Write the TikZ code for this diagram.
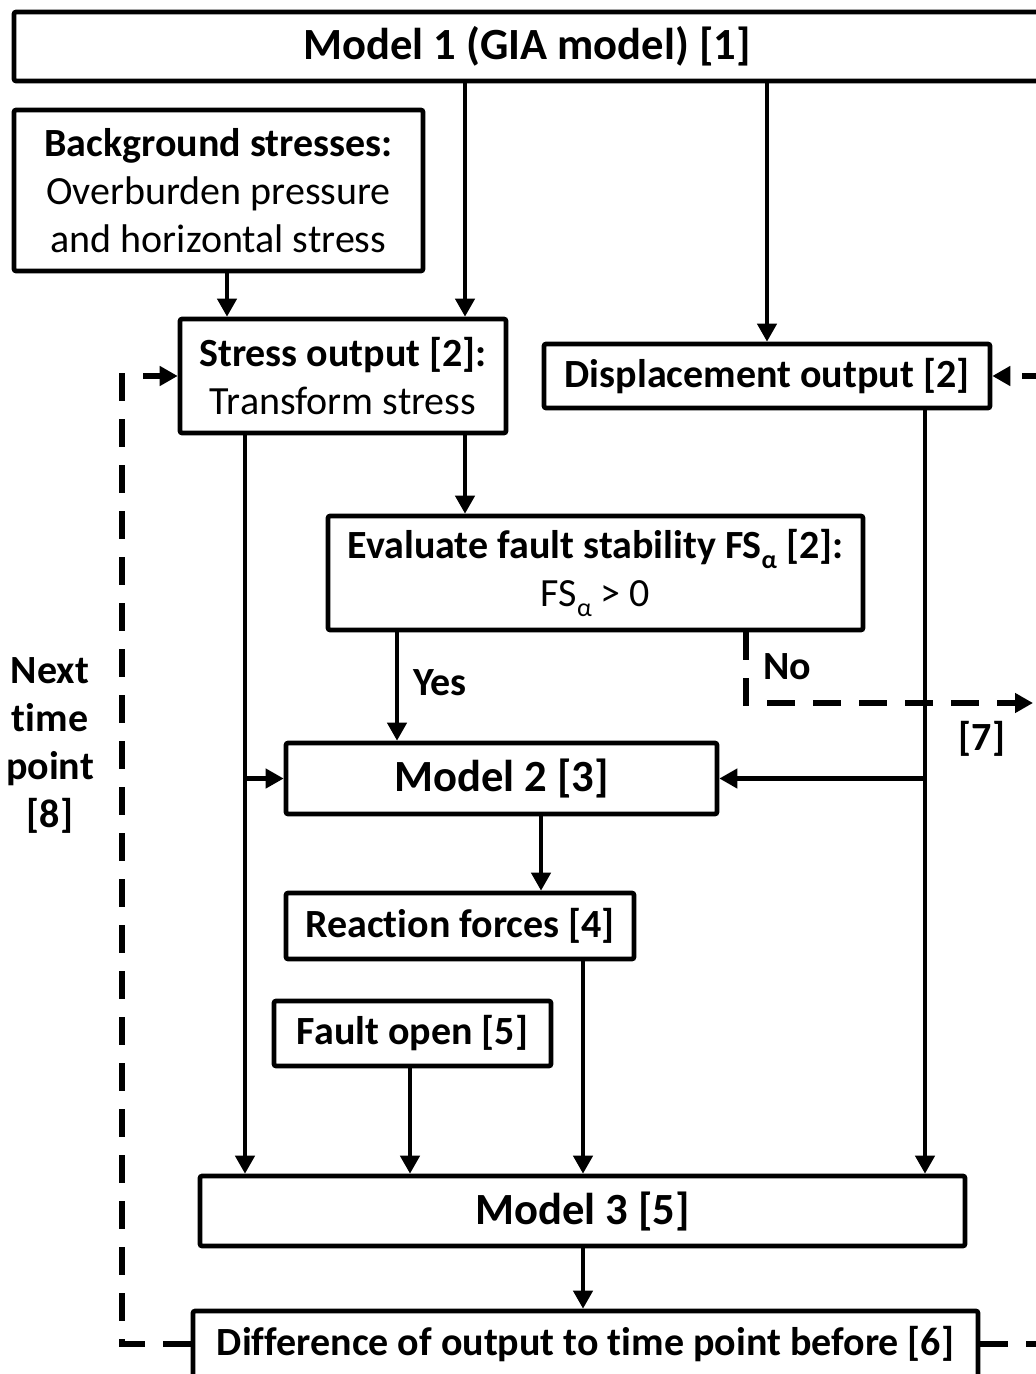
\documentclass[tikz,border=0pt]{standalone}
\usepackage{fontspec}
\setmainfont[Ligatures={NoCommon,NoContextual}]{Carlito}
\usetikzlibrary{arrows.meta,positioning}
\newcommand{\subal}{\raisebox{-0.55ex}{\fontsize{13}{13}\selectfont α}}
\tikzset{box/.style={rectangle,draw,line width=2.3pt,rounded corners=1pt,align=center,inner sep=0pt,font=\fontsize{20}{24}\selectfont},
         size/.style 2 args={minimum width=#1*0.5pt,minimum height=#2*0.5pt},
         big/.style={font=\fontsize{22.3}{26}\selectfont\bfseries},
         edge label/.style={rectangle,draw=none,fill=none,align=center,font=\fontsize{20}{24}\selectfont\bfseries},
         loop/.style={line width=2.8pt,dash pattern=on 14pt off 9pt}
}

\begin{document}
\begin{tikzpicture}[x=0.5pt,y=-0.5pt,line width=2.1pt,>={Triangle[length=9pt,width=9.5pt]}]
\useasboundingbox (0,0) rectangle (1035,1374);

% boxes
\node[box,big,size={1026}{69}] (m1) at (527,46.5) {Model 1 (GIA model) [1]};
\node[box,size={409}{161}] (bg) at (218.5,190.5) {\textbf{Background stresses:}\\Overburden pressure\\and horizontal stress};
\node[box,size={326}{114}] (so) at (343,376) {\textbf{Stress output [2]:}\\Transform stress};
\node[box,size={446}{64},font=\fontsize{20}{24}\selectfont\bfseries] (do) at (767,376) {Displacement output [2]};
\node[box,size={535}{114}] (ev) at (595.5,573) {\textbf{Evaluate fault stability FS\subal{} [2]:}\\FS\subal{} > 0};
\node[box,big,size={431}{71}] (m2) at (501.5,778.5) {Model 2 [3]};
\node[box,size={348}{66},font=\fontsize{20}{24}\selectfont\bfseries] (rf) at (460,926) {Reaction forces [4]};
\node[box,size={277}{65},font=\fontsize{20}{24}\selectfont\bfseries] (fo) at (412.5,1033.5) {Fault open [5]};
\node[box,big,size={765}{70}] (m3) at (582.5,1211) {Model 3 [5]};
\node[box,size={785}{66},font=\fontsize{20}{24}\selectfont\bfseries] (df) at (585.5,1344) {Difference of output to time point before [6]};

% labels
\node[edge label] (yes) at (440,683) {Yes};
\node[edge label] (no) at (787,667) {No};
\node[edge label] (seven) at (982,739) {[7]};
\node[edge label] (next) at (50,745) {Next\\time\\point\\{[8]}};

% x positions of the connectors
\coordinate (a) at (465,0);
\coordinate (b) at (767,0);
\coordinate (c) at (227,0);
\coordinate (d) at (245,0);
\coordinate (e) at (925,0);
\coordinate (f) at (397,0);
\coordinate (g) at (746,0);
\coordinate (h) at (541,0);
\coordinate (i) at (583,0);
\coordinate (j) at (410,0);
\coordinate (lft) at (122,0);
\coordinate (rgt) at (1060,0);
\coordinate (tip) at (1033,703);

% connectors
\draw[->] (m1.south -| a) -- (so.north -| a);
\draw[->] (m1.south -| b) -- (do.north -| b);
\draw[->] (bg.south -| c) -- (so.north -| c);
\draw[->] (so.south -| a) -- (ev.north -| a);
\draw[->] (so.south -| d) -- (m3.north -| d);
\draw[->] (m2.west -| d) -- (m2.west);
\draw[->] (do.south -| e) -- (m3.north -| e);
\draw[->] (m2.east -| e) -- (m2.east);
\draw[->] (ev.south -| f) -- (m2.north -| f);
\draw[->] (m2.south -| h) -- (rf.north -| h);
\draw[->] (rf.south -| i) -- (m3.north -| i);
\draw[->] (fo.south -| j) -- (m3.north -| j);
\draw[->] (m3.south -| i) -- (df.north -| i);

% dashed loops
\draw[->,loop] (ev.south -| g) |- (tip);
\draw[->,loop] (df.west) -- (df.west -| lft) -- (so.west -| lft) -- (so.west);
\draw[->,loop] (df.east) -- (df.east -| rgt) -- (do.east -| rgt) -- (do.east);
\end{tikzpicture}
\end{document}
